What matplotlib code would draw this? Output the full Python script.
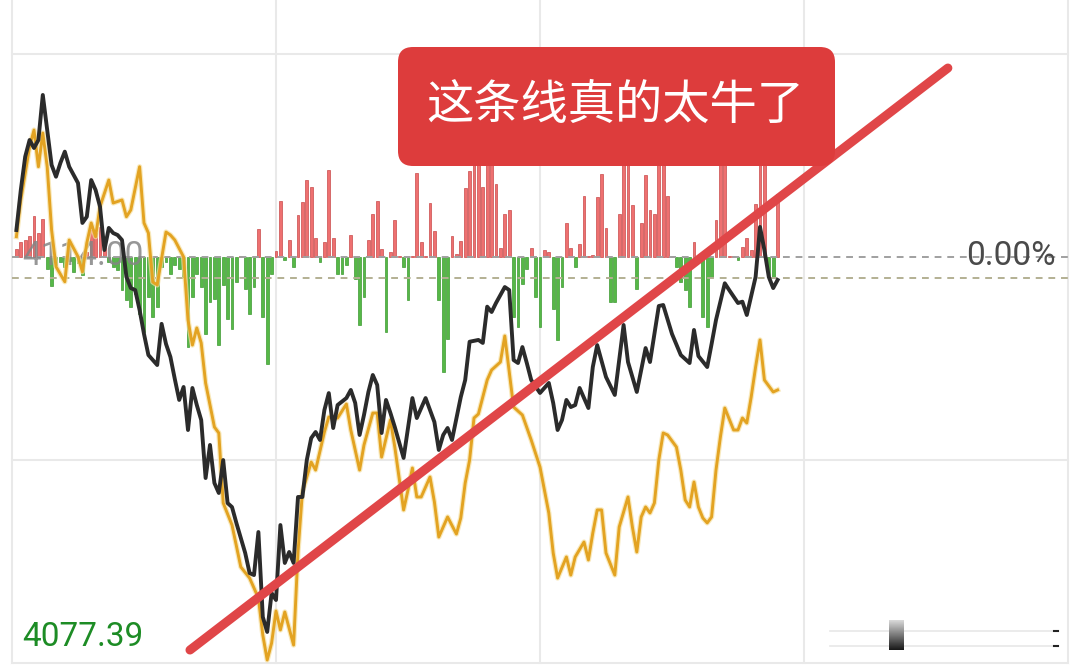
import matplotlib
matplotlib.use("Agg")
import matplotlib.pyplot as plt
import numpy as np
from matplotlib.patches import FancyBboxPatch

# ---------------- data ----------------
PREV_CLOSE = 4114.00
LOW_LABEL = 4077.39
CHANGE_LABEL = "0.00%"
TITLE = "这条线真的太牛了"

price_min = [1, 2, 3, 4, 5, 6, 7, 8, 9, 10, 11, 12, 13, 14, 15, 16, 17, 18, 19, 20,
             21, 22, 23, 24, 25, 26, 27, 28, 29, 30, 31, 32, 33, 34, 35, 36, 37, 38, 39, 40,
             41, 42, 43, 44, 45, 46, 47, 48, 49, 50, 51, 53, 54, 55, 56, 57, 58, 59, 60, 61,
             62, 63, 64, 65, 66, 67, 68, 69, 70, 71, 72, 73, 74, 76, 77, 78, 79, 80, 81, 82,
             83, 84, 85, 86, 87, 89, 91, 92, 94, 96, 97, 98, 99, 100, 102, 103, 104, 106, 107, 108,
             109, 110, 112, 113, 114, 115, 116, 117, 118, 120, 122, 123, 124, 125, 126, 127, 128, 129, 131, 132,
             133, 135, 137, 139, 140, 142, 144, 145, 147, 148, 150, 152, 154, 155, 156, 158, 159, 160, 162, 163,
             165, 166, 167, 169, 170, 171, 172, 173, 174]
price_val = [4116.43, 4120.04, 4123.05, 4124.55, 4123.83, 4124.55, 4128.61, 4125.45, 4122.30, 4121.24,
             4122.48, 4123.50, 4122.14, 4121.40, 4120.67, 4117.07, 4117.63, 4120.94, 4120.04, 4118.54,
             4114.63, 4116.62, 4116.16, 4115.98, 4115.53, 4112.22, 4111.20, 4111.02, 4109.22, 4107.06,
             4105.16, 4104.71, 4104.26, 4107.97, 4106.16, 4104.99, 4103.00, 4101.11, 4102.28, 4098.40,
             4102.19, 4100.65, 4099.30, 4094.07, 4097.05, 4093.62, 4092.72, 4095.69, 4091.81, 4091.45,
             4090.01, 4087.31, 4085.50, 4085.32, 4089.20, 4081.54, 4080.19, 4083.70, 4083.07, 4089.83,
             4086.41, 4087.40, 4086.41, 4092.36, 4092.36, 4095.69, 4097.67, 4098.22, 4097.50, 4100.20,
             4101.73, 4098.58, 4100.65, 4101.28, 4102.01, 4100.84, 4097.95, 4099.76, 4101.83, 4103.36,
             4102.46, 4098.13, 4101.11, 4099.94, 4098.67, 4095.88, 4101.28, 4099.48, 4101.28, 4099.12,
             4096.60, 4097.95, 4098.58, 4097.50, 4101.38, 4102.91, 4106.36, 4106.52, 4106.25, 4109.52,
             4109.04, 4109.85, 4111.29, 4111.02, 4104.71, 4104.44, 4105.88, 4104.44, 4102.91, 4101.74,
             4102.64, 4100.84, 4098.40, 4099.30, 4101.11, 4100.47, 4100.65, 4102.19, 4100.38, 4104.08,
             4106.06, 4103.18, 4101.56, 4107.87, 4104.53, 4101.83, 4105.79, 4104.53, 4109.58, 4109.67,
             4107.06, 4105.16, 4104.44, 4107.42, 4105.07, 4104.08, 4106.16, 4108.32, 4111.63, 4111.02,
             4109.85, 4109.97, 4108.77, 4112.20, 4116.71, 4114.63, 4112.20, 4111.20, 4111.93]

avg_min = [1, 2, 4, 5, 6, 7, 8, 9, 10, 12, 13, 15, 16, 17, 18, 19, 20, 22, 23, 25,
           26, 27, 29, 30, 31, 32, 33, 35, 36, 37, 39, 40, 41, 42, 43, 44, 46, 47, 48, 50,
           52, 54, 56, 57, 58, 59, 60, 61, 62, 64, 65, 66, 68, 69, 71, 72, 74, 76, 77, 79,
           80, 82, 83, 84, 86, 87, 89, 90, 91, 92, 93, 95, 96, 97, 99, 101, 102, 103, 104, 105,
           106, 108, 109, 111, 112, 114, 116, 118, 120, 122, 123, 124, 126, 127, 128, 130, 131, 132, 133, 134,
           135, 137, 138, 140, 141, 142, 143, 144, 145, 146, 147, 148, 149, 151, 152, 153, 154, 155, 156, 157,
           158, 159, 160, 161, 162, 164, 165, 166, 167, 168, 169, 170, 171, 173, 174]
avg_val = [4115.83, 4119.14, 4123.95, 4125.45, 4122.14, 4125.18, 4122.14, 4116.43, 4113.13, 4111.77,
           4115.53, 4114.03, 4112.67, 4115.26, 4117.07, 4115.83, 4118.54, 4120.94, 4118.87, 4119.14,
           4117.63, 4118.24, 4122.14, 4117.07, 4116.16, 4111.75, 4111.48, 4116.25, 4115.98, 4115.53,
           4114.00, 4108.32, 4106.06, 4107.60, 4106.25, 4102.64, 4098.67, 4098.13, 4091.82, 4089.83,
           4086.05, 4085.05, 4083.25, 4079.91, 4077.66, 4079.19, 4082.08, 4080.37, 4081.99, 4079.01,
           4087.40, 4092.81, 4095.51, 4094.79, 4098.22, 4099.57, 4099.48, 4100.74, 4098.40, 4094.79,
           4097.05, 4099.93, 4099.93, 4095.96, 4099.30, 4096.87, 4091.19, 4092.99, 4094.97, 4092.36,
           4092.36, 4094.16, 4091.91, 4088.75, 4090.56, 4089.02, 4090.47, 4093.62, 4095.69, 4099.48,
           4099.84, 4102.91, 4103.81, 4104.53, 4106.88, 4100.47, 4099.75, 4097.50, 4095.06, 4090.92,
           4087.31, 4085.05, 4086.95, 4085.32, 4086.95, 4088.30, 4086.68, 4089.11, 4091.19, 4091.19,
           4087.31, 4085.32, 4089.65, 4092.36, 4089.65, 4087.40, 4090.56, 4091.46, 4090.92, 4091.82,
           4095.69, 4098.13, 4097.95, 4096.87, 4094.79, 4092.09, 4091.46, 4093.71, 4091.46, 4090.47,
           4090.02, 4090.56, 4094.79, 4097.77, 4100.38, 4098.40, 4098.40, 4099.48, 4099.03, 4101.38,
           4104.08, 4106.52, 4102.91, 4101.83, 4102.01]

# per-minute strength bars (minute 1 .. 174), positive = red, negative = green
bar_val = [8, 15, 17, 21, 41, 24, 38, -12, -29, -8,
           -5, -10, -4, -15, -6, -18, 5, 27, 24, 30,
           17, -5, -10, -13, -33, -43, -50, -37, -57, -75,
           -40, -60, -50, -10, -5, -17, -8, -12, -20, -90,
           -40, -17, -30, -77, -45, -42, -88, -28, -62, -72,
           -25, 1, -32, -57, -30, 28, -60, -107, -17, 6,
           56, -3, 17, -10, 42, 55, 77, 70, 19, -5,
           15, 87, 19, -17, -17, -8, 22, -22, -68, -40,
           17, 43, 56, 8, -75, 5, 37, 1, -10, -43,
           1, 84, 15, 1, 54, 26, -43, -115, -82, 21,
           3, 16, 69, 86, 100, 100, 70, 100, 100, 73,
           9, 43, 47, -60, -70, -27, -12, 9, -40, -70,
           7, 5, -52, -83, -30, 34, 9, -10, 13, 61,
           1, 2, 60, 83, 29, -45, -45, 43, 100, 100,
           52, -32, 34, 82, 47, 43, 100, 100, 61, 1,
           -10, -25, -33, -50, 15, 1, -60, -70, -20, 37,
           100, 100, 1, 1, -3, 10, 19, 7, 53, 100,
           100, -20, -20, 63]
bar_min = list(range(1, len(bar_val) + 1))

# hand-drawn trend line (minute, price)
trend_min = [40.45, 212.7]
trend_price = [4078.56, 4131.04]

# ---------------- layout ----------------
W, H = 1080, 668
X0_PX, PX_PER_MIN = 12, 4.4          # minute 0 at pixel 12
Y_PREV_PX, Y_LOW_PX = 257, 663      # pixel rows of prev close and low label
K = (PREV_CLOSE - LOW_LABEL) / (Y_LOW_PX - Y_PREV_PX)   # price per pixel

fig = plt.figure(figsize=(W / 100, H / 100), dpi=100)
fig.patch.set_facecolor("white")
ax = fig.add_axes([0, 0, 1, 1])
ax.set_xlim(-X0_PX / PX_PER_MIN, (W - X0_PX) / PX_PER_MIN)
ax.set_ylim(PREV_CLOSE - (H - Y_PREV_PX) * K, PREV_CLOSE + Y_PREV_PX * K)
ax.axis("off")

ov = fig.add_axes([0, 0, 1, 1], zorder=5)
ov.set_xlim(0, W)
ov.set_ylim(H, 0)
ov.axis("off")
ov.patch.set_alpha(0)

# grid
grid_c = "#e9e9e9"
span = PREV_CLOSE - LOW_LABEL
for yv in [LOW_LABEL, LOW_LABEL + span / 2, PREV_CLOSE + span / 2]:
    ax.plot([0, 240], [yv, yv], color=grid_c, lw=1.5, zorder=0.5)
for xv in [0, 60, 120, 180, 240]:
    ax.plot([xv, xv], [LOW_LABEL, ax.get_ylim()[1]], color=grid_c, lw=1.5, zorder=0.5)

# bars
bv = np.array(bar_val, dtype=float)
bm = np.array(bar_min, dtype=float)
pos = bv > 0
ax.bar(bm[pos], bv[pos] * K, bottom=PREV_CLOSE, width=0.6, color="#ee7070",
       edgecolor="#c94a4a", linewidth=0.5, zorder=1)
ax.bar(bm[~pos], bv[~pos] * K, bottom=PREV_CLOSE, width=0.6, color="#56b847",
       edgecolor="#3e9a33", linewidth=0.5, zorder=1)

# dashed reference lines
ax.plot([0, 240], [PREV_CLOSE, PREV_CLOSE], color="#a0a0a0", lw=1.4,
        linestyle=(0, (3.5, 3)), zorder=1.5)
ax.plot([0, 240], [PREV_CLOSE - 21 * K, PREV_CLOSE - 21 * K], color="#b3b093", lw=1.4,
        linestyle=(0, (3.5, 3)), zorder=1.5)

# labels
ax.text(22, 265, f"{PREV_CLOSE:.2f}", transform=ov.transData, fontsize=24,
        family="Roboto", color="#858585", alpha=0.85, ha="left", va="baseline", zorder=2)
ax.text(1056, 265, CHANGE_LABEL, transform=ov.transData, fontsize=24,
        family="Roboto", color="#4a4a4a", ha="right", va="baseline", zorder=2)
ax.text(22, 646, f"{LOW_LABEL:.2f}", transform=ov.transData, fontsize=24,
        family="Roboto", color="#1d8c25", ha="left", va="baseline", zorder=2)

# lines
ax.plot(avg_min, avg_val, color="#f6e0a0", lw=3.8, alpha=0.7, zorder=2.8,
        solid_joinstyle="round")
ax.plot(avg_min, avg_val, color="#e3a322", lw=2.1, zorder=3, solid_joinstyle="round")
ax.plot(price_min, price_val, color="#2b2b2b", lw=2.8, zorder=4, solid_joinstyle="round")

# trend line
ax.plot(trend_min, trend_price, color="#e04648", lw=6.5, solid_capstyle="round", zorder=10)

# title box
box = FancyBboxPatch((398, 47), 437, 119, boxstyle="round,pad=0,rounding_size=15",
                     facecolor="#dd3c3c", edgecolor="none", zorder=5)
ov.add_patch(box)
ov.text(615, 106, TITLE, fontsize=34, color="white", ha="center", va="center",
        family=["Noto Sans CJK SC", "DejaVu Sans"], zorder=6)

# scrollbar remnant bottom-right
for yy in (631, 646):
    ov.plot([830, 1057], [yy, yy], color="#e8e8e8", lw=1.2, zorder=3)
    ov.plot([1054, 1058], [yy, yy], color="#222222", lw=1.5, zorder=3)
grad = np.linspace(0.85, 0.1, 40).reshape(-1, 1) * np.ones((1, 4))
ov.imshow(grad, cmap="gray", vmin=0, vmax=1, extent=(889, 904, 650, 620),
          aspect="auto", zorder=4, interpolation="bilinear")
ov.set_xlim(0, W)
ov.set_ylim(H, 0)

fig.savefig("out.png", dpi=100, facecolor="white")
